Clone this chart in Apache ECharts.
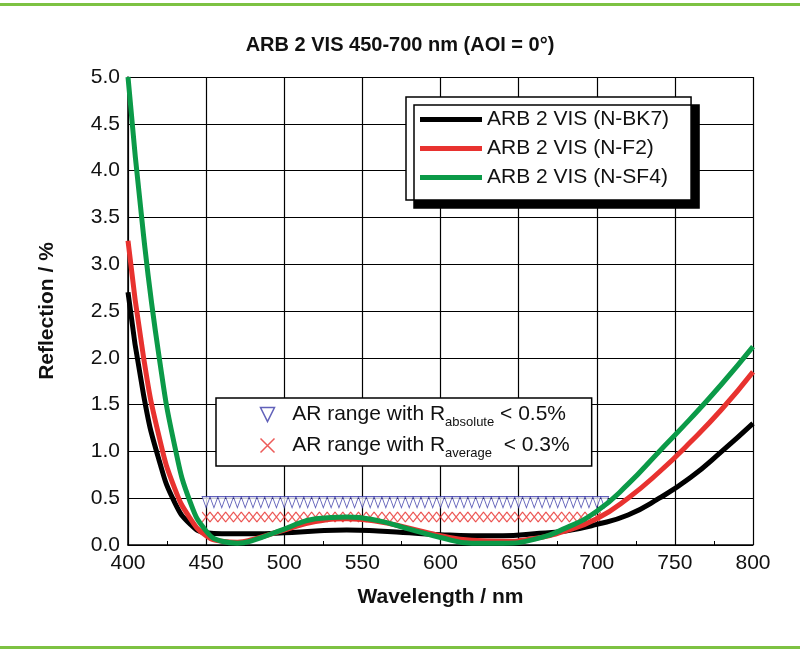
<!DOCTYPE html>
<html><head><meta charset="utf-8">
<script src="https://cdn.jsdelivr.net/npm/echarts@6/dist/echarts.min.js"></script>
<style>html,body{margin:0;padding:0;background:#fff}#c{width:800px;height:651px}</style>
</head><body><div id="c"></div>
<script>
var wl = [400,410,420,430,440,450,460,470,480,500,520,540,560,580,600,620,640,660,680,700,720,740,760,780,800];
var bk7 = [2.7,1.6,0.9,0.45,0.22,0.13,0.12,0.12,0.12,0.13,0.15,0.16,0.15,0.13,0.11,0.1,0.1,0.12,0.15,0.22,0.32,0.5,0.72,1.0,1.3];
var nf2 = [3.25,2.0,1.15,0.6,0.28,0.1,0.04,0.03,0.06,0.16,0.25,0.28,0.25,0.18,0.1,0.05,0.04,0.07,0.15,0.28,0.5,0.78,1.1,1.45,1.85];
var nsf4 = [5.0,3.3,2.0,1.05,0.45,0.15,0.04,0.02,0.05,0.17,0.28,0.3,0.26,0.17,0.08,0.02,0.02,0.06,0.18,0.36,0.65,1.0,1.35,1.72,2.12];
var absX = [450,455,460,465,470,475,480,485,490,495,500,505,510,515,520,525,530,535,540,545,550,555,560,565,570,575,580,585,590,595,600,605,610,615,620,625,630,635,640,645,650,655,660,665,670,675,680,685,690,695,700,705];
var avgX = [450,455,460,465,470,475,480,485,490,495,500,505,510,515,520,525,530,535,540,545,550,555,560,565,570,575,580,585,590,595,600,605,610,615,620,625,630,635,640,645,650,655,660,665,670,675,680,685,690,695,700];
var absLevel = 0.5, avgLevel = 0.3;

function pairs(xs, ys){ return xs.map(function(x,i){ return [x, Array.isArray(ys) ? ys[i] : ys]; }); }

var tri = 'path://M0,0L10,0L5,10Z';
var cross = 'path://M0,0L10,10M10,0L0,10';
var chart = echarts.init(document.getElementById('c'));
var ff = 'Liberation Sans, Arial, sans-serif';
chart.setOption({
  animation:false,
  title:{text:'ARB 2 VIS 450-700 nm (AOI = 0°)',left:'center',top:30,textStyle:{fontFamily:ff,fontSize:20,fontWeight:'bold',color:'#111'}},
  graphic:[
    {type:'rect',shape:{x:0,y:3,width:800,height:3},style:{fill:'#7dc242'}},
    {type:'rect',shape:{x:0,y:646,width:800,height:3},style:{fill:'#7dc242'}}
  ],
  legend:[{
    data:[{name:'ARB 2 VIS (N-BK7)',icon:'rect'},{name:'ARB 2 VIS (N-F2)',icon:'rect'},{name:'ARB 2 VIS (N-SF4)',icon:'rect'}],
    orient:'vertical',left:406,top:97,padding:[12,22,12,14],itemGap:8,itemWidth:62,itemHeight:5,
    backgroundColor:'#fff',borderColor:'#000',borderWidth:1.5,shadowColor:'#000',shadowOffsetX:8,shadowOffsetY:8,shadowBlur:0,
    textStyle:{fontFamily:ff,fontSize:21,color:'#111'}
  },{
    data:[{name:'abs',icon:tri,itemStyle:{color:'#fff',borderColor:'#3a3aa8',borderWidth:1.5}},{name:'avg',icon:cross,itemStyle:{color:'none',borderColor:'#e8322f',borderWidth:1.5}}],
    orient:'vertical',left:216,top:398,padding:[6,22,6,42],itemGap:6,itemWidth:16,itemHeight:14,
    backgroundColor:'#fff',borderColor:'#000',borderWidth:1.5,
    formatter:function(n){ return n==='abs' ? '  AR range with R{s|absolute} < 0.5%' : '  AR range with R{s|average}  < 0.3%'; },
    textStyle:{fontFamily:ff,fontSize:21,color:'#111',rich:{s:{fontSize:13,verticalAlign:'bottom',padding:[16,0,0,0],fontFamily:ff}}}
  }],
  grid:{left:128,right:47,top:77,bottom:106},
  xAxis:{type:'value',min:400,max:800,interval:50,name:'Wavelength / nm',nameLocation:'middle',nameGap:42,
    nameTextStyle:{fontFamily:ff,fontSize:21,fontWeight:'bold',color:'#111'},
    axisLine:{lineStyle:{color:'#000',width:1.5}},axisTick:{inside:true,length:6,lineStyle:{color:'#000'}},
    minorTick:{show:true,splitNumber:2,length:4,lineStyle:{color:'#000'}},
    axisLabel:{fontFamily:ff,fontSize:21,color:'#111',margin:8},
    splitLine:{show:true,lineStyle:{color:'#000',width:1.2}}},
  yAxis:{type:'value',min:0,max:5,interval:0.5,name:'Reflection / %',nameLocation:'middle',nameGap:70,
    nameTextStyle:{fontFamily:ff,fontSize:21,fontWeight:'bold',color:'#111'},
    axisLine:{lineStyle:{color:'#000',width:1.5}},axisTick:{inside:true,length:6,lineStyle:{color:'#000'}},
    axisLabel:{fontFamily:ff,fontSize:21,color:'#111',formatter:function(v){return v.toFixed(1);}},
    splitLine:{show:true,lineStyle:{color:'#000',width:1.2}}},
  series:[
    {name:'abs',type:'scatter',data:pairs(absX,absLevel),symbol:tri,symbolSize:[8,11],symbolOffset:[0,4],
      itemStyle:{color:'#fff',borderColor:'#3a3aa8',borderWidth:1},z:3},
    {name:'avg',type:'scatter',data:pairs(avgX,avgLevel),symbol:cross,symbolSize:[8,10],
      itemStyle:{color:'none',borderColor:'#e8322f',borderWidth:1.2},z:3},
    {name:'ARB 2 VIS (N-BK7)',type:'line',smooth:true,symbol:'none',data:pairs(wl,bk7),lineStyle:{color:'#000',width:5},itemStyle:{color:'#000'},z:4},
    {name:'ARB 2 VIS (N-F2)',type:'line',smooth:true,symbol:'none',data:pairs(wl,nf2),lineStyle:{color:'#e8322f',width:5},itemStyle:{color:'#e8322f'},z:5},
    {name:'ARB 2 VIS (N-SF4)',type:'line',smooth:true,symbol:'none',data:pairs(wl,nsf4),lineStyle:{color:'#0b9a48',width:5},itemStyle:{color:'#0b9a48'},z:6}
  ]
});
</script></body></html>
